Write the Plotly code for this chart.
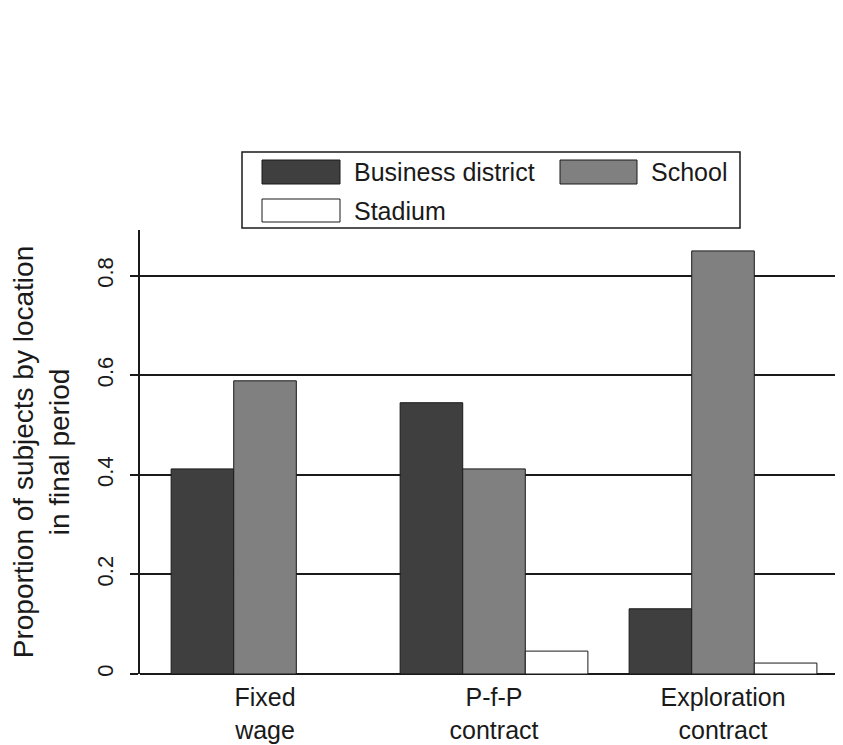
import plotly.graph_objects as go

categories = ["Fixed<br>wage", "P-f-P<br>contract", "Exploration<br>contract"]
business = [0.412, 0.545, 0.131]
school = [0.589, 0.412, 0.850]
stadium = [0.0, 0.046, 0.022]
series_names = ["Business district", "School", "Stadium"]
series_colors = ["#3f3f3f", "#808080", "#ffffff"]
ytick_vals = [0, 0.2, 0.4, 0.6, 0.8]
ytick_text = ["0", "0.2", "0.4", "0.6", "0.8"]

FONT = "Liberation Sans, Arial, sans-serif"
INK = "#1a1a1a"

fig = go.Figure()
for name, vals, col in zip(series_names, [business, school, stadium], series_colors):
    fig.add_trace(go.Bar(
        x=categories, y=vals, name=name,
        marker=dict(color=col, line=dict(color=INK, width=1)),
        showlegend=False,
    ))

fig.update_layout(
    width=843, height=745,
    margin=dict(l=132, r=8, t=222, b=79),
    paper_bgcolor="white", plot_bgcolor="white",
    barmode="group", bargap=0.18, bargroupgap=0,
    font=dict(family=FONT, color=INK),
    xaxis=dict(
        range=[-0.546, 2.524], showgrid=False, ticks="",
        showline=False, zeroline=False, ticklabelstandoff=6,
        tickfont=dict(size=25, family=FONT, color=INK),
    ),
    yaxis=dict(
        range=[0, 0.892], tickvals=ytick_vals, ticktext=ytick_text,
        tickangle=-90, ticks="outside", ticklen=8, tickwidth=1.5, tickcolor=INK,
        ticklabelstandoff=8,
        tickfont=dict(size=22, family=FONT, color=INK),
        showgrid=True, gridcolor=INK, gridwidth=1.5,
        zeroline=True, zerolinecolor=INK, zerolinewidth=2,
        showline=True, linecolor=INK, linewidth=1.5,
        title=dict(text="Proportion of subjects by location<br>in final period",
                   font=dict(size=28, family=FONT, color=INK), standoff=16),
    ),
)

# Custom legend (paper coordinates relative to plot area, plot spans screen x 140..843, y 230..674)
def px_x(p):
    return (p - 140) / 703.0

def px_y(p):
    return (674 - p) / 444.0

shapes = [
    dict(type="rect", xref="paper", yref="paper",
         x0=px_x(242), x1=px_x(740), y0=px_y(228), y1=px_y(152),
         line=dict(color=INK, width=1.5), fillcolor="white"),
]
legend_items = [
    (262, 340, 160, 184, 352),
    (560, 637, 160, 184, 649),
    (262, 340, 199, 222, 352),
]
annotations = []
for (x0, x1, y0, y1, tx), name, col in zip(legend_items, series_names, series_colors):
    shapes.append(dict(type="rect", xref="paper", yref="paper",
                       x0=px_x(x0), x1=px_x(x1), y0=px_y(y1), y1=px_y(y0),
                       line=dict(color=INK, width=1), fillcolor=col))
    annotations.append(dict(xref="paper", yref="paper", x=px_x(tx), y=px_y((y0 + y1) / 2),
                            text=name, showarrow=False, xanchor="left", yanchor="middle",
                            font=dict(size=25, family=FONT, color=INK)))
fig.update_layout(shapes=shapes, annotations=annotations)

fig.write_html("out.html")
